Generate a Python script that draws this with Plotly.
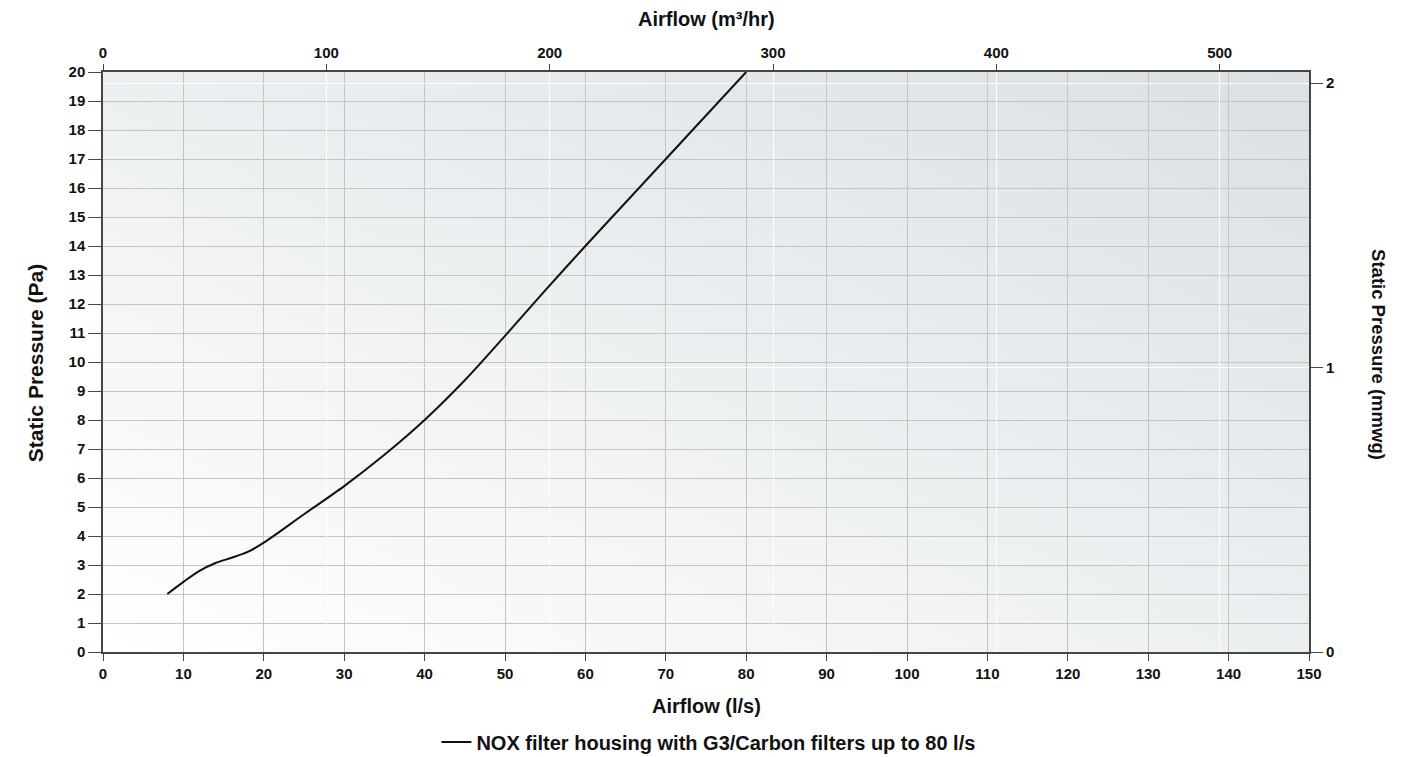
import base64
import plotly.graph_objects as go

# Data
airflow_ls = [8, 10, 12, 14, 16, 18, 20, 25, 30, 35, 40, 45, 50, 55, 60, 65, 70, 75, 80]
pressure_pa = [2.0, 2.42, 2.8, 3.07, 3.25, 3.45, 3.77, 4.75, 5.72, 6.8, 8.0, 9.37, 10.9, 12.47, 14.0, 15.5, 17.0, 18.5, 20.0]
series_name = "NOX filter housing with G3/Carbon filters up to 80 l/s"

x_ticks = list(range(0, 151, 10))
y_ticks = list(range(0, 21, 1))
x2_ticks = [0, 100, 200, 300, 400, 500]
y2_ticks = [0, 1, 2]

LS_TO_M3H = 3.6
PA_PER_MMWG = 9.80665

FONT = "Liberation Sans, Arial, sans-serif"
AXIS_COLOR = "#454545"
GRID_COLOR = "#c4c4c4"

svg = (
    '<svg xmlns="http://www.w3.org/2000/svg" width="1206" height="580" '
    'viewBox="0 0 1206 580" preserveAspectRatio="none">'
    '<defs><linearGradient id="g" x1="0" y1="1" x2="1" y2="0">'
    '<stop offset="0" stop-color="#ffffff"/>'
    '<stop offset="1" stop-color="#dae0e3"/>'
    '</linearGradient></defs>'
    '<rect width="1206" height="580" fill="url(#g)"/></svg>'
)
bg_uri = "data:image/svg+xml;base64," + base64.b64encode(svg.encode()).decode()

fig = go.Figure()
fig.add_trace(go.Scatter(
    x=airflow_ls, y=pressure_pa, mode="lines", name=series_name,
    line=dict(color="#111111", width=2, shape="spline", smoothing=0.8),
    xaxis="x", yaxis="y",
))
# invisible companion trace so the secondary axes are drawn
fig.add_trace(go.Scatter(
    x=[v * LS_TO_M3H for v in airflow_ls],
    y=[v / PA_PER_MMWG for v in pressure_pa],
    mode="lines", line=dict(width=0, color="rgba(0,0,0,0)"),
    showlegend=False, hoverinfo="skip", xaxis="x2", yaxis="y2",
))

tickfont = dict(family=FONT, size=15, color="#111111", weight="bold")


def tfont(size):
    return dict(family=FONT, size=size, color="#111111", weight="bold")


fig.update_layout(
    width=1417, height=757,
    margin=dict(l=103, r=108, t=72, b=105, pad=0, autoexpand=False),
    paper_bgcolor="white",
    plot_bgcolor="rgba(0,0,0,0)",
    font=dict(family=FONT),
    images=[dict(source=bg_uri, xref="paper", yref="paper", x=0, y=1,
                 sizex=1, sizey=1, sizing="stretch", layer="below",
                 xanchor="left", yanchor="top")],
    xaxis=dict(range=[0, 150], tickvals=x_ticks, ticks="outside", ticklen=7,
               tickcolor=AXIS_COLOR, showline=True, linecolor=AXIS_COLOR,
               linewidth=1.5, mirror=True, showgrid=True, gridcolor=GRID_COLOR,
               gridwidth=1, zeroline=False, tickfont=tickfont),
    yaxis=dict(range=[0, 20], tickvals=y_ticks, ticks="outside", ticklen=13,
               tickcolor=AXIS_COLOR, showline=True, linecolor=AXIS_COLOR,
               linewidth=1.5, mirror=True, showgrid=True, gridcolor=GRID_COLOR,
               gridwidth=1, zeroline=False, tickfont=tickfont),
    xaxis2=dict(range=[0, 150 * LS_TO_M3H], tickvals=x2_ticks, side="top",
                overlaying="x", ticks="outside", ticklen=7, tickcolor=AXIS_COLOR,
                showline=False, showgrid=True, gridcolor="rgba(255,255,255,0.9)",
                gridwidth=1, zeroline=False, tickfont=tickfont),
    yaxis2=dict(range=[0, 20 / PA_PER_MMWG], tickvals=y2_ticks, side="right",
                overlaying="y", ticks="outside", ticklen=13, tickcolor=AXIS_COLOR,
                showline=False, showgrid=True, gridcolor="rgba(255,255,255,0.9)",
                gridwidth=1, zeroline=False, tickfont=tickfont),
    legend=dict(orientation="h", x=0.502, xanchor="center", y=-0.155,
                yanchor="middle", font=tfont(20), bgcolor="rgba(0,0,0,0)"),
    annotations=[
        dict(text="Airflow (l/s)", xref="paper", yref="paper", x=0.5, y=-0.093,
             showarrow=False, font=tfont(20), xanchor="center", yanchor="middle"),
        dict(text="Airflow (m³/hr)", xref="paper", yref="paper", x=0.5, y=1.091,
             showarrow=False, font=tfont(20), xanchor="center", yanchor="middle"),
        dict(text="Static Pressure (Pa)", xref="paper", yref="paper", x=-0.0564, y=0.498,
             showarrow=False, font=tfont(21), textangle=-90,
             xanchor="center", yanchor="middle"),
        dict(text="Static Pressure (mmwg)", xref="paper", yref="paper", x=1.058, y=0.512,
             showarrow=False, font=tfont(18.5), textangle=90,
             xanchor="center", yanchor="middle"),
    ],
    showlegend=True,
)

fig.write_html("out.html", config={"displayModeBar": False},
               post_script="document.body.style.margin='0';")
